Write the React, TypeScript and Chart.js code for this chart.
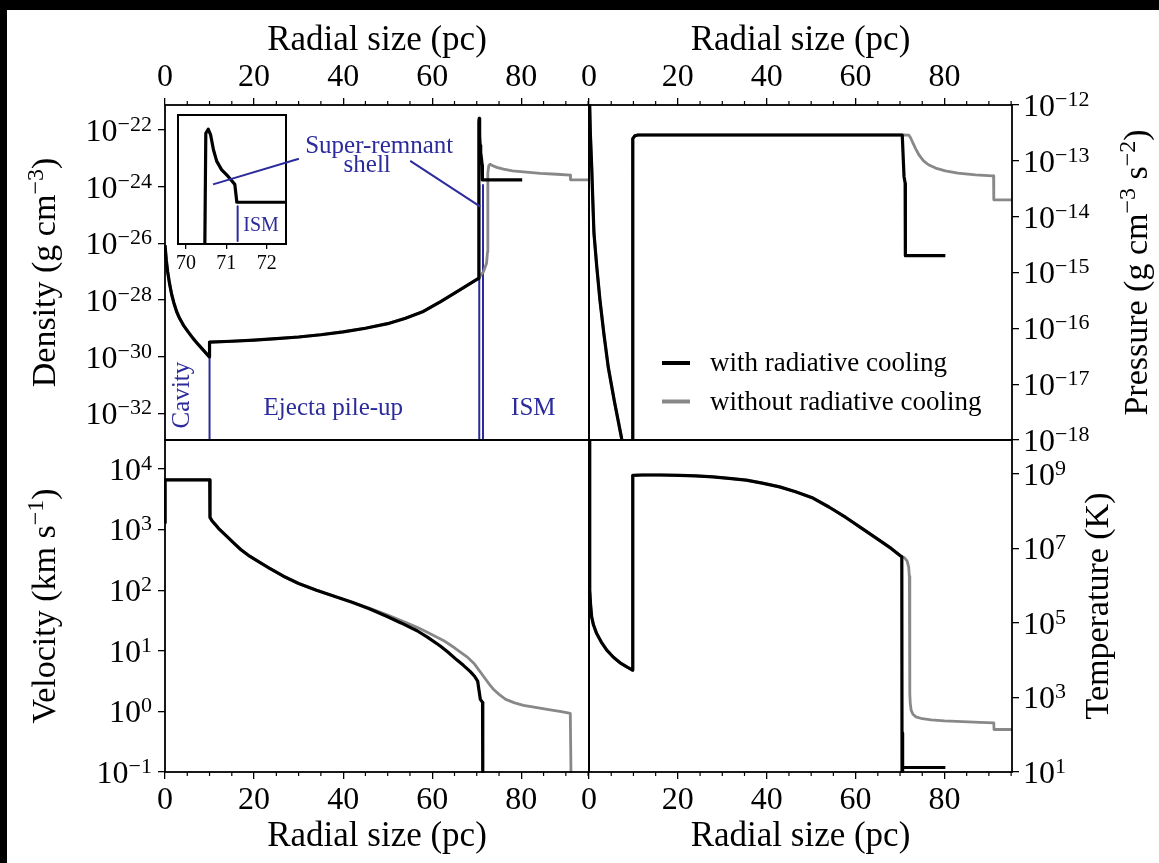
import React, { useEffect, useRef } from "react";
import { Chart, registerables } from "chart.js";

Chart.register(...registerables);

const FIG_W = 1159;
const FIG_H = 863;
const SERIF = '"Liberation Serif", "DejaVu Serif", serif';
const INK = "#000000";
const GRAY = "#888888";
const BLUE = "#2b2b9c";

// ---------- shared x axis (radial size, pc) ----------
const xMin = 0;
const xMax = 95.2;
const xMajorTicks = [0, 20, 40, 60, 80];
const xMinorTicks = [5, 10, 15, 25, 30, 35, 45, 50, 55, 65, 70, 75, 85, 90, 95];

// ---------- density (g cm^-3) ----------
const densityCoolX = [0, 0.3, 0.6, 1, 1.5, 2, 2.6, 3.3, 4.2, 5.2, 6.3, 7.5, 8.7, 9.95, 10.0, 15, 20, 25, 30, 35, 40, 45, 50, 54, 58, 61.8, 66.3, 70.3, 70.45, 70.49, 70.55, 70.61, 70.68, 70.76, 70.88, 71.05, 71.21, 71.26, 80.2];
const densityCoolY = [8.71e-27, 2.51e-27, 1.0e-27, 3.98e-28, 1.58e-28, 7.94e-29, 3.98e-29, 2.24e-29, 1.26e-29, 7.59e-30, 4.47e-30, 2.69e-30, 1.66e-30, 1.0e-30, 3.31e-30, 3.55e-30, 3.89e-30, 4.37e-30, 5.01e-30, 6.03e-30, 7.59e-30, 1.02e-29, 1.48e-29, 2.29e-29, 3.98e-29, 8.71e-29, 2.34e-28, 5.75e-28, 6.03e-28, 1.95e-22, 2.57e-22, 1.74e-22, 6.3e-23, 2.9e-23, 1.62e-23, 1.0e-23, 5.9e-24, 1.74e-24, 1.74e-24];
const densityNoCoolX = [0, 0.3, 0.6, 1, 1.5, 2, 2.6, 3.3, 4.2, 5.2, 6.3, 7.5, 8.7, 9.95, 10.0, 15, 20, 25, 30, 35, 40, 45, 50, 54, 58, 61.8, 66.3, 70.3, 70.45, 71.5, 72.2, 72.42, 72.47, 72.5, 72.7, 73.0, 73.6, 74.5, 76, 78, 80.5, 84.3, 88, 91.0, 91.05, 95.2];
const densityNoCoolY = [8.71e-27, 2.51e-27, 1.0e-27, 3.98e-28, 1.58e-28, 7.94e-29, 3.98e-29, 2.24e-29, 1.26e-29, 7.59e-30, 4.47e-30, 2.69e-30, 1.66e-30, 1.0e-30, 3.31e-30, 3.55e-30, 3.89e-30, 4.37e-30, 5.01e-30, 6.03e-30, 7.59e-30, 1.02e-29, 1.48e-29, 2.29e-29, 3.98e-29, 8.71e-29, 2.34e-28, 5.75e-28, 6.03e-28, 1.0e-27, 2.0e-27, 5.0e-27, 1.0e-25, 3.02e-24, 5.5e-24, 6.17e-24, 5.5e-24, 4.79e-24, 4.17e-24, 3.63e-24, 3.31e-24, 2.95e-24, 2.75e-24, 2.57e-24, 1.74e-24, 1.74e-24];
const densityTicks = [1e-32, 1e-30, 1e-28, 1e-26, 1e-24, 1e-22];
const densityMin = 1.17e-33;
const densityMax = 7.6e-22;
const regionBoundaryX = [10, 70.56, 71.4];
const regionBoundaryTop = [1.0e-30, 1.15e-24, 1.15e-24];
const densityLabels = ["Cavity", "Ejecta pile-up", "ISM", "Super-remnant", "shell"];
const densityLabelX = [4.0, 37.8, 82.7, 48.1, 45.4];
const densityLabelY = [4.5e-32, 1.55e-32, 1.55e-32, 2.7e-23, 5.4e-24];
const shellPointerMainX = [55.06, 70.79];
const shellPointerMainY = [8.1e-24, 1.97e-25];

// ---------- inset (zoom on the shell) ----------
const insetXMin = 69.8;
const insetXMax = 72.48;
const insetTicks = [70, 71, 72];
const insetYMin = 1.07e-25;
const insetYMax = 6.8e-22;
const insetIsmX = [71.28, 71.28];
const insetIsmY = [1.32e-24, 1.23e-25];
const insetIsmLabelX = 71.86;
const insetIsmLabelY = 3.4e-25;
const shellPointerInsetX = [70.67, 72.8];
const shellPointerInsetY = [5.9e-24, 3.4e-23];

// ---------- pressure (g cm^-3 s^-2) ----------
const pressureCoolX = [0, 0.15, 0.3, 0.6, 0.85, 1.12, 1.75, 2.47, 3.35, 4.34, 5.7, 7.34, 8.3, 9.8, 9.85, 10.3, 11.0, 70.5, 70.9, 71.15, 71.2, 80.2];
const pressureCoolY = [1e-11, 1.0e-12, 3.16e-13, 7.94e-14, 2.0e-14, 5.0e-15, 1.26e-15, 3.16e-16, 7.94e-17, 2.0e-17, 5.0e-18, 1.07e-18, 5.0e-19, 3.0e-19, 2.5e-13, 2.8e-13, 2.9e-13, 2.9e-13, 5.2e-14, 4.0e-14, 2.0e-15, 2.0e-15];
const pressureNoCoolX = [0, 0.15, 0.3, 0.6, 0.85, 1.12, 1.75, 2.47, 3.35, 4.34, 5.7, 7.34, 8.3, 9.8, 9.85, 10.3, 11.0, 70.5, 72.0, 72.4, 72.9, 73.5, 74.3, 75.3, 76.4, 78, 80.2, 83, 87, 90.8, 91.05, 91.1, 95.2];
const pressureNoCoolY = [1e-11, 1.0e-12, 3.16e-13, 7.94e-14, 2.0e-14, 5.0e-15, 1.26e-15, 3.16e-16, 7.94e-17, 2.0e-17, 5.0e-18, 1.07e-18, 5.0e-19, 3.0e-19, 2.5e-13, 2.8e-13, 2.9e-13, 2.9e-13, 2.88e-13, 2.57e-13, 2.09e-13, 1.66e-13, 1.26e-13, 1.0e-13, 8.51e-14, 7.41e-14, 6.61e-14, 6.03e-14, 5.62e-14, 5.37e-14, 5.37e-14, 2.0e-14, 2.0e-14];
const pressureTicks = [1e-18, 1e-17, 1e-16, 1e-15, 1e-14, 1e-13, 1e-12];
const pressureMin = 1e-18;
const pressureMax = 1e-12;

// ---------- velocity (km s^-1) ----------
const velocityCoolX = [0, 0.02, 10.05, 10.1, 10.6, 11.2, 12, 13, 14, 15.4, 17, 19, 21, 23.5, 26.6, 30, 34, 38, 42, 46, 50, 53, 56.6, 59, 61.8, 63.5, 65.5, 67, 68.5, 69.5, 70.2, 70.5, 70.8, 71.3, 71.35];
const velocityCoolY = [1300, 6600, 6600, 1585, 1380, 1230, 1047, 891, 759, 603, 468, 363, 295, 229, 170, 129, 100, 79.4, 63.1, 49.0, 36.3, 28.8, 21.4, 16.6, 12.0, 9.55, 7.08, 5.75, 4.57, 3.8, 3.16, 2.24, 1.58, 1.41, 0.05];
const velocityNoCoolX = [0, 0.02, 10.05, 10.1, 10.6, 11.2, 12, 13, 14, 15.4, 17, 19, 21, 23.5, 26.6, 30, 34, 38, 42, 46, 50, 53, 56.6, 59, 62.5, 65, 67.8, 69.5, 71.5, 72.8, 73.8, 75, 76.5, 78.5, 80.5, 83.5, 86.5, 89, 91.0, 91.2];
const velocityNoCoolY = [1300, 6600, 6600, 1585, 1380, 1230, 1047, 891, 759, 603, 468, 363, 295, 229, 170, 129, 100, 79.4, 63.1, 50.1, 38.9, 31.6, 24.5, 20.0, 14.8, 11.2, 7.94, 6.03, 3.8, 2.82, 2.29, 1.91, 1.58, 1.38, 1.26, 1.15, 1.06, 0.99, 0.93, 0.05];
const velocityTicks = [1e-1, 1e0, 1e1, 1e2, 1e3, 1e4];
const velocityMin = 0.1;
const velocityMax = 3.0e4;

// ---------- temperature (K) ----------
const temperatureCoolX = [0, 0.1, 0.22, 0.35, 0.6, 1.0, 1.7, 2.8, 4.0, 5.5, 7.0, 8.4, 9.6, 9.8, 9.85, 12, 16, 20.4, 24, 27.9, 31.5, 35.4, 39, 42.9, 46.5, 50.4, 54, 57.8, 61.5, 65.3, 68, 70.2, 70.4, 70.45, 70.5, 70.6, 70.65, 80.2];
const temperatureCoolY = [1e10, 3.16e7, 7.59e5, 3.16e5, 1.45e5, 8.91e4, 5.25e4, 3.02e4, 1.86e4, 1.2e4, 8.51e3, 6.76e3, 5.62e3, 5.37e3, 9.12e8, 9.33e8, 9.33e8, 9.12e8, 8.81e8, 8.32e8, 7.59e8, 6.76e8, 5.62e8, 4.47e8, 3.31e8, 2.24e8, 1.29e8, 6.76e7, 3.39e7, 1.66e7, 1.0e7, 6.17e6, 6.0e6, 9, 112, 112, 13.2, 13.2];
const temperatureNoCoolX = [0, 0.1, 0.22, 0.35, 0.6, 1.0, 1.7, 2.8, 4.0, 5.5, 7.0, 8.4, 9.6, 9.8, 9.85, 12, 16, 20.4, 24, 27.9, 31.5, 35.4, 39, 42.9, 46.5, 50.4, 54, 57.8, 61.5, 65.3, 68, 70.2, 71.0, 71.6, 71.95, 72.1, 72.18, 72.2, 72.22, 72.3, 72.5, 72.9, 73.6, 75, 77, 80, 84, 88, 91.1, 91.15, 95.2];
const temperatureNoCoolY = [1e10, 3.16e7, 7.59e5, 3.16e5, 1.45e5, 8.91e4, 5.25e4, 3.02e4, 1.86e4, 1.2e4, 8.51e3, 6.76e3, 5.62e3, 5.37e3, 9.12e8, 9.33e8, 9.33e8, 9.12e8, 8.81e8, 8.32e8, 7.59e8, 6.76e8, 5.62e8, 4.47e8, 3.31e8, 2.24e8, 1.29e8, 6.76e7, 3.39e7, 1.66e7, 1.0e7, 6.17e6, 5.62e6, 4.57e6, 3.16e6, 1.78e6, 6.3e5, 3.16e4, 1.26e3, 708, 457, 355, 302, 269, 251, 234, 224, 214, 209, 138, 138];
const temperatureTicks = [1e1, 1e3, 1e5, 1e7, 1e9];
const temperatureMin = 10;
const temperatureMax = 8.1e9;

const seriesLabels = ["with radiative cooling", "without radiative cooling"];

// ---------- panel geometry ----------
const P_LEFT = 165;
const P_MID_X = 589;
const P_RIGHT = 1012;
const P_TOP = 105;
const P_MID_Y = 440;
const P_BOTTOM = 772;

type Part = { t: string; sup?: boolean };

function drawRich(
  ctx: CanvasRenderingContext2D,
  parts: Part[],
  x: number,
  y: number,
  o: { size: number; color?: string; rot?: number; align?: "left" | "right" | "center"; raise?: number; supScale?: number }
) {
  const size = o.size;
  const supSize = Math.round(size * (o.supScale ?? 0.7));
  ctx.save();
  ctx.translate(x, y);
  if (o.rot) ctx.rotate(o.rot);
  const widths = parts.map((p) => {
    ctx.font = `${p.sup ? supSize : size}px ${SERIF}`;
    return ctx.measureText(p.t).width;
  });
  const total = widths.reduce((a, b) => a + b, 0);
  let cx = o.align === "right" ? -total : o.align === "left" ? 0 : -total / 2;
  const base = size * 0.34;
  const raise = o.raise ?? size * 0.33;
  ctx.fillStyle = o.color ?? INK;
  ctx.textAlign = "left";
  ctx.textBaseline = "alphabetic";
  parts.forEach((p, i) => {
    ctx.font = `${p.sup ? supSize : size}px ${SERIF}`;
    ctx.fillText(p.t, cx, p.sup ? base - raise : base);
    cx += widths[i];
  });
  ctx.restore();
}

function lineSet(label: string, xs: number[], ys: number[], color: string, width: number, order: number) {
  return {
    type: "line",
    label,
    data: xs.map((x, i) => ({ x, y: ys[i] })),
    borderColor: color,
    backgroundColor: color,
    borderWidth: width,
    pointRadius: 0,
    pointHoverRadius: 0,
    tension: 0,
    fill: false,
    order,
    clip: 1,
    borderJoinStyle: "round",
  };
}

function expText(v: number) {
  const e = Math.round(Math.log10(v));
  return e < 0 ? "\u2212" + String(-e) : String(e);
}

interface PanelSpec {
  canvas: HTMLCanvasElement;
  area: [number, number, number, number];
  xPos: "top" | "bottom";
  yPos: "left" | "right";
  yMin: number;
  yMax: number;
  yTicks: number[];
  datasets: any[];
  yTitle: Part[];
  yTitleX: number;
  extra?: (chart: any) => void;
}

function buildPanel(s: PanelSpec) {
  const [l, t, r, b] = s.area;
  const yW = 140;
  const xH = s.xPos === "top" ? 90 : 86;
  const padding = {
    left: s.yPos === "left" ? l - yW : l,
    right: s.yPos === "right" ? FIG_W - r - yW : FIG_W - r,
    top: s.xPos === "top" ? t - xH : t,
    bottom: s.xPos === "bottom" ? FIG_H - b - xH : FIG_H - b,
  };
  const gridOpts = {
    display: true,
    drawOnChartArea: false,
    drawTicks: true,
    tickLength: 7,
    color: INK,
    tickColor: INK,
    lineWidth: 1.3,
  };
  const decor = {
    id: "panelDecor",
    afterDatasetsDraw(chart: any) {
      const { ctx, chartArea: a, scales } = chart;
      const xs = scales.x;
      const ys = scales.y;
      ctx.save();
      if (s.extra) s.extra(chart);
      ctx.strokeStyle = INK;
      ctx.lineWidth = 1.8;
      ctx.strokeRect(a.left, a.top, a.right - a.left, a.bottom - a.top);
      ctx.lineWidth = 1.2;
      ctx.beginPath();
      for (const v of xMinorTicks) {
        const px = xs.getPixelForValue(v);
        if (s.xPos === "top") {
          ctx.moveTo(px, a.top);
          ctx.lineTo(px, a.top - 4);
        } else {
          ctx.moveTo(px, a.bottom);
          ctx.lineTo(px, a.bottom + 4);
        }
      }
      ctx.stroke();
      for (const v of s.yTicks) {
        const py = ys.getPixelForValue(v);
        const parts: Part[] = [{ t: "10" }, { t: expText(v), sup: true }];
        if (s.yPos === "left") drawRich(ctx, parts, a.left - 13, py, { size: 32, align: "right", raise: 10 });
        else drawRich(ctx, parts, a.right + 11, py, { size: 32, align: "left", raise: 10 });
      }
      drawRich(ctx, s.yTitle, s.yTitleX, (a.top + a.bottom) / 2, {
        size: 34,
        rot: -Math.PI / 2,
        align: "center",
        raise: 12,
      });
      ctx.restore();
    },
  };
  return new Chart(s.canvas, {
    type: "line",
    data: { datasets: s.datasets },
    options: {
      responsive: false,
      maintainAspectRatio: false,
      animation: false,
      events: [],
      layout: { autoPadding: false, padding },
      scales: {
        x: {
          type: "linear",
          position: s.xPos,
          min: xMin,
          max: xMax,
          afterBuildTicks: (sc: any) => {
            sc.ticks = xMajorTicks.map((v) => ({ value: v }));
          },
          afterFit: (sc: any) => {
            sc.height = xH;
          },
          grid: gridOpts,
          border: { display: false },
          ticks: {
            display: true,
            color: INK,
            font: { family: SERIF, size: 32 },
            padding: s.xPos === "top" ? 1 : 2,
            autoSkip: false,
            maxRotation: 0,
            minRotation: 0,
            callback: (v: any) => String(v),
          },
          title: {
            display: true,
            text: "Radial size (pc)",
            color: INK,
            font: { family: SERIF, size: 35 },
            padding: s.xPos === "top" ? { top: 5, bottom: 0 } : { top: 0, bottom: 0 },
          },
        },
        y: {
          type: "logarithmic",
          position: s.yPos,
          min: s.yMin,
          max: s.yMax,
          afterBuildTicks: (sc: any) => {
            sc.ticks = s.yTicks.map((v) => ({ value: v, major: true }));
          },
          afterFit: (sc: any) => {
            sc.width = yW;
          },
          grid: gridOpts,
          border: { display: false },
          ticks: { display: false },
          title: { display: false },
        },
      },
      plugins: { legend: { display: false }, tooltip: { enabled: false } },
    } as any,
    plugins: [decor],
  } as any);
}

function buildInset(canvas: HTMLCanvasElement) {
  const l = 178,
    t = 115,
    r = 286,
    b = 244;
  const xH = 40;
  const decor = {
    id: "insetDecor",
    beforeDatasetsDraw(chart: any) {
      const { ctx, chartArea: a } = chart;
      ctx.save();
      ctx.fillStyle = "#ffffff";
      ctx.fillRect(a.left, a.top, a.right - a.left, a.bottom - a.top);
      ctx.restore();
    },
    afterDatasetsDraw(chart: any) {
      const { ctx, chartArea: a, scales } = chart;
      const xs = scales.x;
      const ys = scales.y;
      ctx.save();
      ctx.strokeStyle = INK;
      ctx.lineWidth = 2;
      ctx.strokeRect(a.left, a.top, a.right - a.left, a.bottom - a.top);
      ctx.fillStyle = BLUE;
      ctx.font = `20px ${SERIF}`;
      ctx.textAlign = "center";
      ctx.textBaseline = "middle";
      ctx.fillText("ISM", xs.getPixelForValue(insetIsmLabelX), ys.getPixelForValue(insetIsmLabelY));
      ctx.strokeStyle = BLUE;
      ctx.lineWidth = 2;
      ctx.beginPath();
      ctx.moveTo(xs.getPixelForValue(shellPointerInsetX[0]), ys.getPixelForValue(shellPointerInsetY[0]));
      ctx.lineTo(xs.getPixelForValue(shellPointerInsetX[1]), ys.getPixelForValue(shellPointerInsetY[1]));
      ctx.stroke();
      ctx.restore();
    },
  };
  return new Chart(canvas, {
    type: "line",
    data: {
      datasets: [
        lineSet(seriesLabels[0], densityCoolX, densityCoolY, INK, 3.2, 0),
        lineSet("ISM boundary", insetIsmX, insetIsmY, BLUE, 2, 1),
      ],
    },
    options: {
      responsive: false,
      maintainAspectRatio: false,
      animation: false,
      events: [],
      layout: { autoPadding: false, padding: { left: l, top: t, right: FIG_W - r, bottom: FIG_H - b - xH } },
      scales: {
        x: {
          type: "linear",
          position: "bottom",
          min: insetXMin,
          max: insetXMax,
          afterBuildTicks: (sc: any) => {
            sc.ticks = insetTicks.map((v) => ({ value: v }));
          },
          afterFit: (sc: any) => {
            sc.height = xH;
          },
          grid: { display: true, drawOnChartArea: false, drawTicks: true, tickLength: 5, color: INK, lineWidth: 1.3 },
          border: { display: false },
          ticks: {
            color: INK,
            font: { family: SERIF, size: 20 },
            padding: 3,
            autoSkip: false,
            maxRotation: 0,
            minRotation: 0,
            callback: (v: any) => String(v),
          },
        },
        y: { type: "logarithmic", display: false, min: insetYMin, max: insetYMax },
      },
      plugins: { legend: { display: false }, tooltip: { enabled: false } },
    } as any,
    plugins: [decor],
  } as any);
}

function densityExtra(chart: any) {
  const { ctx, scales } = chart;
  const xs = scales.x;
  const ys = scales.y;
  ctx.save();
  ctx.fillStyle = BLUE;
  ctx.font = `25px ${SERIF}`;
  ctx.textAlign = "center";
  ctx.textBaseline = "middle";
  densityLabels.forEach((txt, i) => {
    const px = xs.getPixelForValue(densityLabelX[i]);
    const py = ys.getPixelForValue(densityLabelY[i]);
    if (txt === "Cavity") {
      ctx.save();
      ctx.translate(px, py);
      ctx.rotate(-Math.PI / 2);
      ctx.fillText(txt, 0, 0);
      ctx.restore();
    } else {
      ctx.fillText(txt, px, py);
    }
  });
  ctx.strokeStyle = BLUE;
  ctx.lineWidth = 2;
  ctx.beginPath();
  ctx.moveTo(xs.getPixelForValue(shellPointerMainX[0]), ys.getPixelForValue(shellPointerMainY[0]));
  ctx.lineTo(xs.getPixelForValue(shellPointerMainX[1]), ys.getPixelForValue(shellPointerMainY[1]));
  ctx.stroke();
  ctx.restore();
}

function pressureLegend(chart: any) {
  const { ctx, chartArea: a } = chart;
  ctx.save();
  [0, 1].forEach((i) => {
    const ds = chart.data.datasets[i];
    const y = a.top + 258 + i * 38.5;
    ctx.strokeStyle = ds.borderColor;
    ctx.lineWidth = 4;
    ctx.beginPath();
    ctx.moveTo(a.left + 73, y);
    ctx.lineTo(a.left + 101, y);
    ctx.stroke();
    ctx.fillStyle = INK;
    ctx.font = `27px ${SERIF}`;
    ctx.textAlign = "left";
    ctx.textBaseline = "middle";
    ctx.fillText(ds.label, a.left + 121, y + 1);
  });
  ctx.restore();
}

export default function App() {
  const cDensity = useRef<HTMLCanvasElement>(null);
  const cPressure = useRef<HTMLCanvasElement>(null);
  const cVelocity = useRef<HTMLCanvasElement>(null);
  const cTemperature = useRef<HTMLCanvasElement>(null);
  const cInset = useRef<HTMLCanvasElement>(null);

  useEffect(() => {
    const boundarySets = regionBoundaryX.map((bx, i) =>
      lineSet("region boundary " + (i + 1), [bx, bx], [regionBoundaryTop[i], densityMin * 0.5], BLUE, 2, 2)
    );
    const charts = [
      buildPanel({
        canvas: cDensity.current!,
        area: [P_LEFT, P_TOP, P_MID_X, P_MID_Y],
        xPos: "top",
        yPos: "left",
        yMin: densityMin,
        yMax: densityMax,
        yTicks: densityTicks,
        datasets: [
          lineSet(seriesLabels[0], densityCoolX, densityCoolY, INK, 3.2, 0),
          lineSet(seriesLabels[1], densityNoCoolX, densityNoCoolY, GRAY, 2.8, 1),
          ...boundarySets,
        ],
        yTitle: [{ t: "Density (g cm" }, { t: "\u22123", sup: true }, { t: ")" }],
        yTitleX: 43,
        extra: densityExtra,
      }),
      buildPanel({
        canvas: cPressure.current!,
        area: [P_MID_X, P_TOP, P_RIGHT, P_MID_Y],
        xPos: "top",
        yPos: "right",
        yMin: pressureMin,
        yMax: pressureMax,
        yTicks: pressureTicks,
        datasets: [
          lineSet(seriesLabels[0], pressureCoolX, pressureCoolY, INK, 3.2, 0),
          lineSet(seriesLabels[1], pressureNoCoolX, pressureNoCoolY, GRAY, 2.8, 1),
        ],
        yTitle: [{ t: "Pressure (g cm" }, { t: "\u22123", sup: true }, { t: " s" }, { t: "\u22122", sup: true }, { t: ")" }],
        yTitleX: 1135,
        extra: pressureLegend,
      }),
      buildPanel({
        canvas: cVelocity.current!,
        area: [P_LEFT, P_MID_Y, P_MID_X, P_BOTTOM],
        xPos: "bottom",
        yPos: "left",
        yMin: velocityMin,
        yMax: velocityMax,
        yTicks: velocityTicks,
        datasets: [
          lineSet(seriesLabels[0], velocityCoolX, velocityCoolY, INK, 3.2, 0),
          lineSet(seriesLabels[1], velocityNoCoolX, velocityNoCoolY, GRAY, 2.8, 1),
        ],
        yTitle: [{ t: "Velocity (km s" }, { t: "\u22121", sup: true }, { t: ")" }],
        yTitleX: 43,
      }),
      buildPanel({
        canvas: cTemperature.current!,
        area: [P_MID_X, P_MID_Y, P_RIGHT, P_BOTTOM],
        xPos: "bottom",
        yPos: "right",
        yMin: temperatureMin,
        yMax: temperatureMax,
        yTicks: temperatureTicks,
        datasets: [
          lineSet(seriesLabels[0], temperatureCoolX, temperatureCoolY, INK, 3.2, 0),
          lineSet(seriesLabels[1], temperatureNoCoolX, temperatureNoCoolY, GRAY, 2.8, 1),
        ],
        yTitle: [{ t: "Temperature (K)" }],
        yTitleX: 1096,
      }),
      buildInset(cInset.current!),
    ];
    return () => charts.forEach((c) => c.destroy());
  }, []);

  const cs: React.CSSProperties = { position: "absolute", left: 0, top: 0, width: FIG_W, height: FIG_H };
  return (
    <div style={{ position: "fixed", left: 0, top: 0, width: FIG_W, height: FIG_H, background: "#000", overflow: "hidden" }}>
      <div style={{ position: "absolute", left: 7, top: 10, width: FIG_W - 7, height: FIG_H - 10, background: "#fff" }} />
      <canvas ref={cDensity} width={FIG_W} height={FIG_H} style={cs} />
      <canvas ref={cPressure} width={FIG_W} height={FIG_H} style={cs} />
      <canvas ref={cVelocity} width={FIG_W} height={FIG_H} style={cs} />
      <canvas ref={cTemperature} width={FIG_W} height={FIG_H} style={cs} />
      <canvas ref={cInset} width={FIG_W} height={FIG_H} style={cs} />
    </div>
  );
}
